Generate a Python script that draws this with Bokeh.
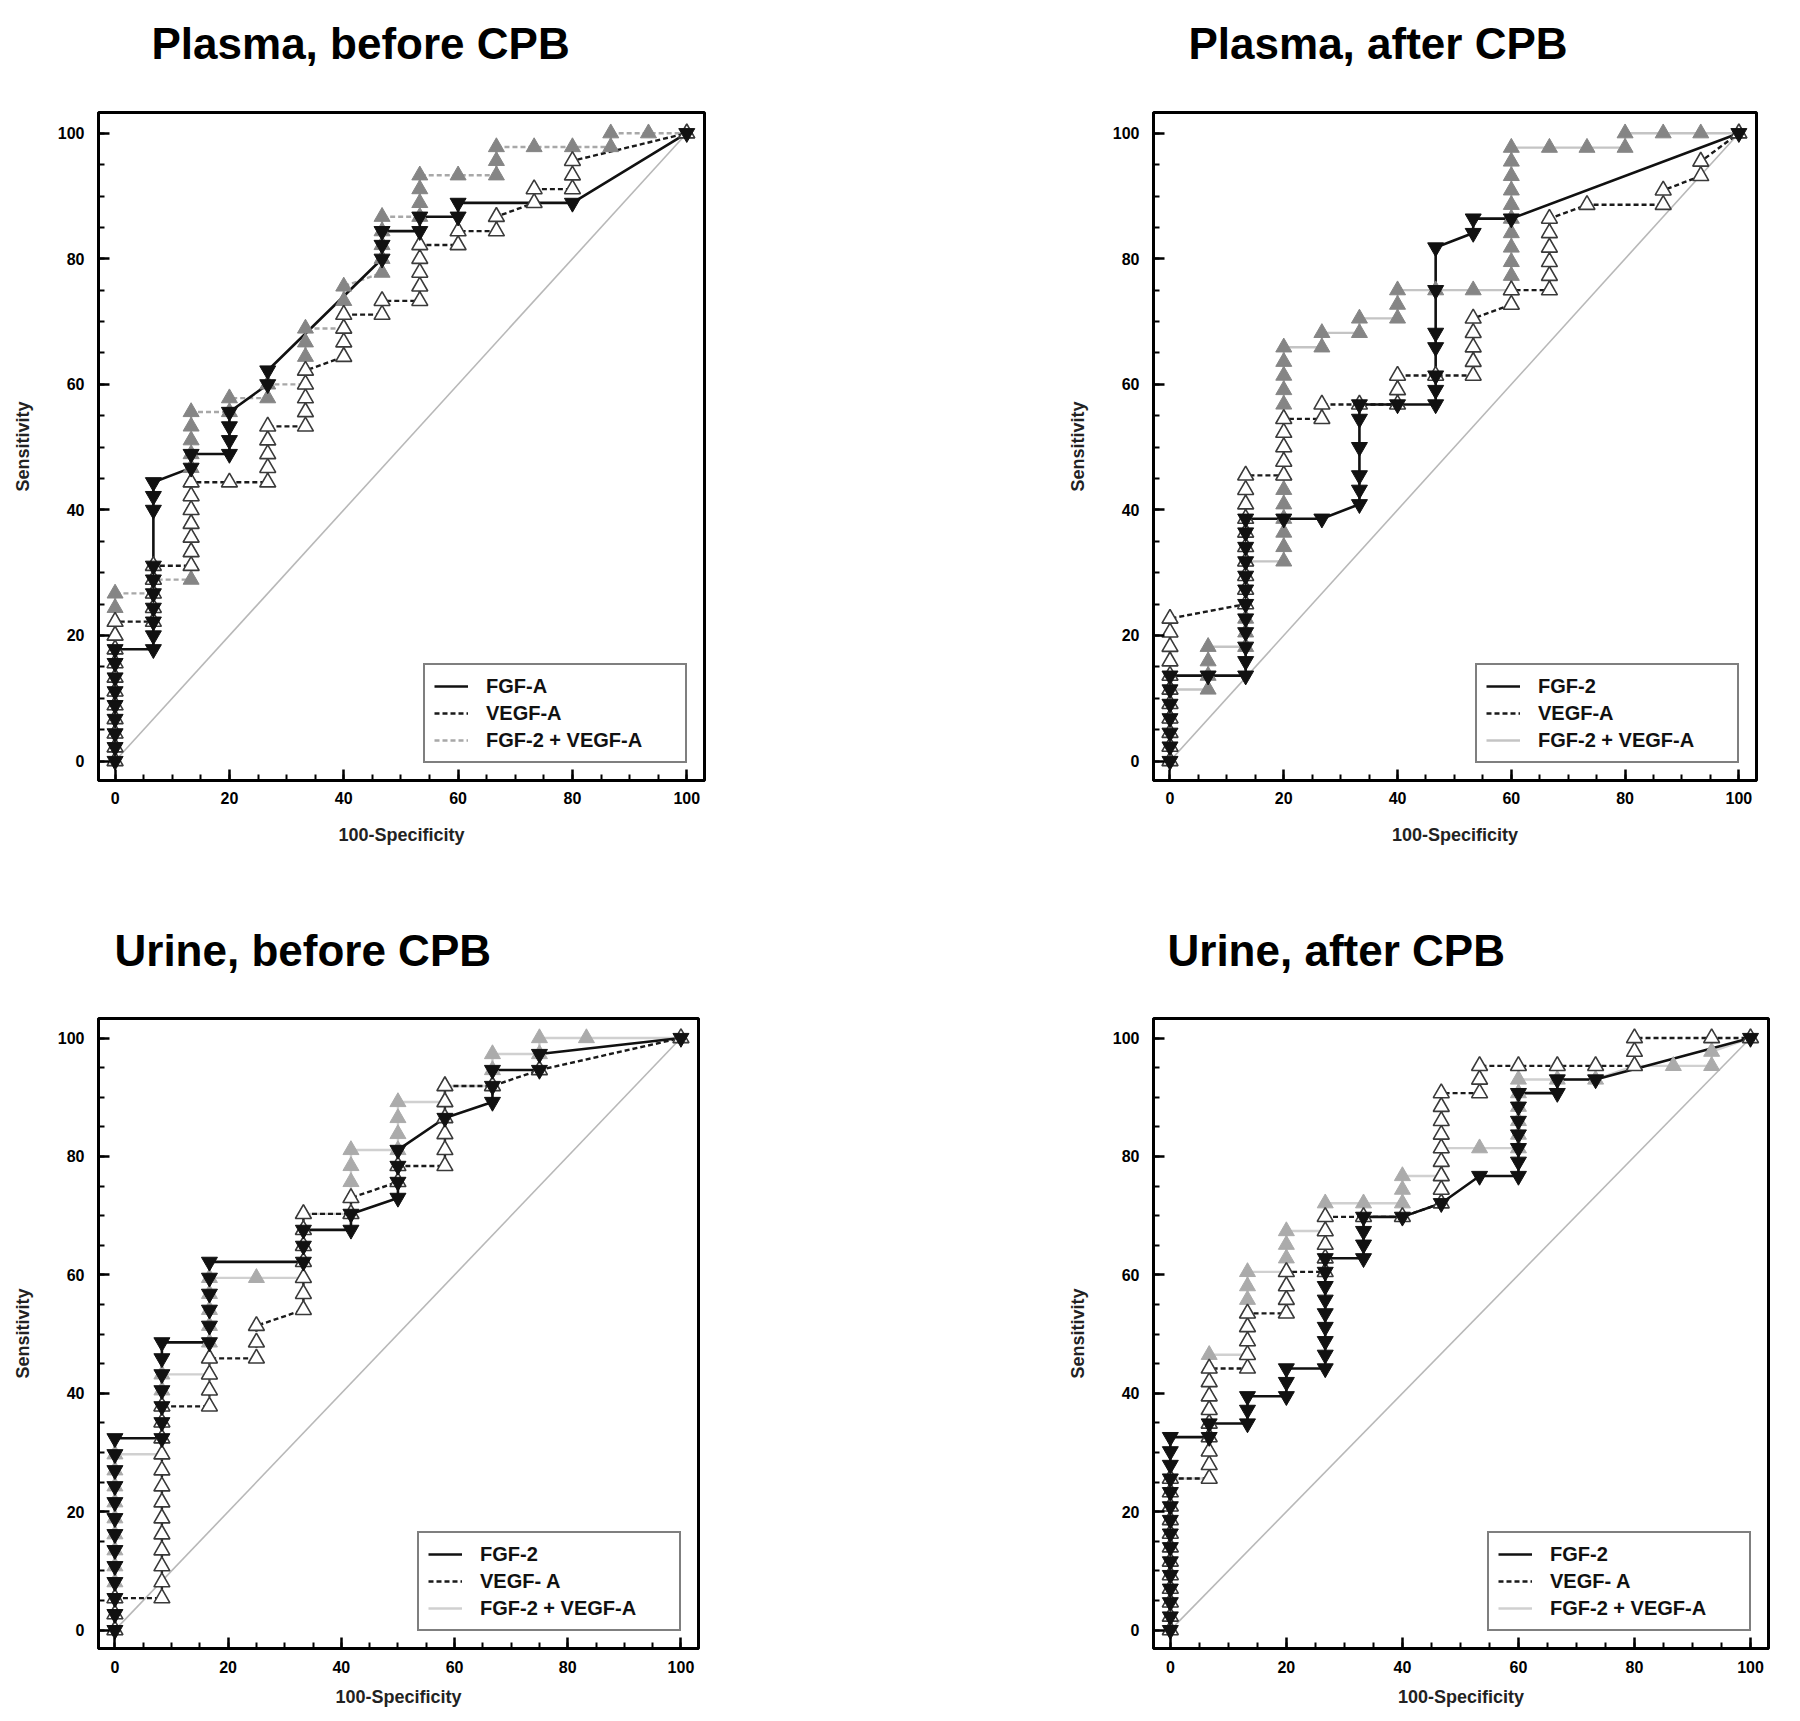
from bokeh.plotting import figure
from bokeh.models import Legend, LegendItem, SingleIntervalTicker
from bokeh.core.properties import value
from bokeh.layouts import column, row
from bokeh.embed import file_html
from bokeh.resources import INLINE

# ---------------- DATA ----------------
TITLES = ["Plasma, before CPB", "Plasma, after CPB", "Urine, before CPB", "Urine, after CPB"]
LABELS_P1 = ["FGF-A", "VEGF-A", "FGF-2 + VEGF-A"]
LABELS_P2 = ["FGF-2", "VEGF-A", "FGF-2 + VEGF-A"]
LABELS_P3 = ["FGF-2", "VEGF- A", "FGF-2 + VEGF-A"]
LABELS_P4 = ["FGF-2", "VEGF- A", "FGF-2 + VEGF-A"]
X_LABEL = "100-Specificity"
Y_LABEL = "Sensitivity"
DIAG_X = [0, 100]
DIAG_Y = [0, 100]

# Panel 1: Plasma, before CPB
P1_FGF_X = [0, 0, 0, 0, 0, 0, 0, 0, 0, 6.7, 6.7, 6.7, 6.7, 6.7, 6.7, 6.7, 6.7, 6.7, 6.7,
            13.3, 13.3, 20, 20, 20, 20, 26.7, 26.7, 46.7, 46.7, 46.7, 53.3, 53.3, 60, 60, 80, 100]
P1_FGF_Y = [0, 2.2, 4.4, 6.7, 8.9, 11.1, 13.3, 15.6, 17.8, 17.8, 20.0, 22.2, 24.4, 26.7, 28.9, 31.1, 40.0, 42.2, 44.4,
            46.7, 48.9, 48.9, 51.1, 53.3, 55.6, 60.0, 62.2, 80.0, 82.2, 84.4, 84.4, 86.7, 86.7, 88.9, 88.9, 100]
P1_VEGF_X = [0, 0, 0, 0, 0, 0, 0, 0, 0, 0, 0, 6.7, 6.7, 6.7, 6.7, 6.7,
             13.3, 13.3, 13.3, 13.3, 13.3, 13.3, 13.3, 20, 26.7, 26.7, 26.7, 26.7, 26.7,
             33.3, 33.3, 33.3, 33.3, 33.3, 40, 40, 40, 40, 46.7, 46.7, 53.3, 53.3, 53.3, 53.3, 53.3,
             60, 60, 66.7, 66.7, 73.3, 73.3, 80, 80, 80, 100]
P1_VEGF_Y = [0, 2.2, 4.4, 6.7, 8.9, 11.1, 13.3, 15.6, 17.8, 20.0, 22.2, 22.2, 24.4, 26.7, 28.9, 31.1,
             31.1, 33.3, 35.6, 37.8, 40.0, 42.2, 44.4, 44.4, 44.4, 46.7, 48.9, 51.1, 53.3,
             53.3, 55.6, 57.8, 60.0, 62.2, 64.4, 66.7, 68.9, 71.1, 71.1, 73.3, 73.3, 75.6, 77.8, 80.0, 82.2,
             82.2, 84.4, 84.4, 86.7, 88.9, 91.1, 91.1, 93.3, 95.6, 100]
P1_COMBO_X = [0, 0, 0, 0, 0, 0, 0, 0, 0, 0, 0, 0, 0, 6.7, 6.7,
              13.3, 13.3, 13.3, 13.3, 13.3, 13.3, 13.3, 13.3, 13.3, 13.3, 13.3, 13.3, 13.3,
              20, 20, 26.7, 26.7, 33.3, 33.3, 33.3, 33.3, 33.3, 40, 40, 40, 40,
              46.7, 46.7, 46.7, 46.7, 46.7, 53.3, 53.3, 53.3, 53.3, 60, 66.7, 66.7, 66.7,
              73.3, 80, 86.7, 86.7, 93.3, 100]
P1_COMBO_Y = [0, 2.2, 4.4, 6.7, 8.9, 11.1, 13.3, 15.6, 17.8, 20.0, 22.2, 24.4, 26.7, 26.7, 28.9,
              28.9, 31.1, 33.3, 35.6, 37.8, 40.0, 42.2, 44.4, 46.7, 48.9, 51.1, 53.3, 55.6,
              55.6, 57.8, 57.8, 60.0, 60.0, 62.2, 64.4, 66.7, 68.9, 68.9, 71.1, 73.3, 75.6,
              77.8, 80.0, 82.2, 84.4, 86.7, 86.7, 88.9, 91.1, 93.3, 93.3, 93.3, 95.6, 97.8,
              97.8, 97.8, 97.8, 100, 100, 100]

# Panel 2: Plasma, after CPB
P2_FGF_X = [0, 0, 0, 0, 0, 0, 0, 6.7,
            13.3, 13.3, 13.3, 13.3, 13.3, 13.3, 13.3, 13.3, 13.3, 13.3, 13.3, 13.3,
            20, 26.7, 33.3, 33.3, 33.3, 33.3, 33.3, 33.3, 40,
            46.7, 46.7, 46.7, 46.7, 46.7, 46.7, 46.7, 53.3, 53.3, 60, 100]
P2_FGF_Y = [0, 2.3, 4.5, 6.8, 9.1, 11.4, 13.6, 13.6,
            13.6, 15.9, 18.2, 20.5, 22.7, 25.0, 27.3, 29.5, 31.8, 34.1, 36.4, 38.6,
            38.6, 38.6, 40.9, 43.2, 45.5, 50.0, 54.5, 56.8, 56.8,
            56.8, 59.1, 61.4, 65.9, 68.2, 75.0, 81.8, 84.1, 86.4, 86.4, 100]
P2_VEGF_X = [0, 0, 0, 0, 0, 0, 0, 0, 0, 0, 0,
             13.3, 13.3, 13.3, 13.3, 13.3, 13.3, 13.3, 13.3, 13.3, 13.3,
             20, 20, 20, 20, 20, 26.7, 26.7, 33.3, 40, 40, 40, 46.7,
             53.3, 53.3, 53.3, 53.3, 53.3, 60, 60, 66.7, 66.7, 66.7, 66.7, 66.7, 66.7,
             73.3, 86.7, 86.7, 93.3, 93.3, 100]
P2_VEGF_Y = [0, 2.3, 4.5, 6.8, 9.1, 11.4, 13.6, 15.9, 18.2, 20.5, 22.7,
             25.0, 27.3, 29.5, 31.8, 34.1, 36.4, 38.6, 40.9, 43.2, 45.5,
             45.5, 47.7, 50.0, 52.3, 54.5, 54.5, 56.8, 56.8, 56.8, 59.1, 61.4, 61.4,
             61.4, 63.6, 65.9, 68.2, 70.5, 72.7, 75.0, 75.0, 77.3, 79.5, 81.8, 84.1, 86.4,
             88.6, 88.6, 90.9, 93.2, 95.5, 100]
P2_COMBO_X = [0, 0, 0, 0, 0, 0, 6.7, 6.7, 6.7, 6.7,
              13.3, 13.3, 13.3, 13.3, 13.3, 13.3, 13.3,
              20, 20, 20, 20, 20, 20, 20, 20, 20, 20, 20, 20, 20, 20, 20, 20,
              26.7, 26.7, 33.3, 33.3, 40, 40, 40, 46.7, 53.3,
              60, 60, 60, 60, 60, 60, 60, 60, 60, 60, 60,
              66.7, 73.3, 80, 80, 86.7, 93.3, 100]
P2_COMBO_Y = [0, 2.3, 4.5, 6.8, 9.1, 11.4, 11.4, 13.6, 15.9, 18.2,
              18.2, 20.5, 22.7, 25.0, 27.3, 29.5, 31.8,
              31.8, 34.1, 36.4, 38.6, 40.9, 43.2, 45.5, 47.7, 50.0, 52.3, 54.5, 56.8, 59.1, 61.4, 63.6, 65.9,
              65.9, 68.2, 68.2, 70.5, 70.5, 72.7, 75.0, 75.0, 75.0,
              75.0, 77.3, 79.5, 81.8, 84.1, 86.4, 88.6, 90.9, 93.2, 95.5, 97.7,
              97.7, 97.7, 97.7, 100, 100, 100, 100]

# Panel 3: Urine, before CPB
P3_FGF_X = [0, 0, 0, 0, 0, 0, 0, 0, 0, 0, 0, 0, 0,
            8.3, 8.3, 8.3, 8.3, 8.3, 8.3, 8.3, 16.7, 16.7, 16.7, 16.7, 16.7, 16.7,
            33.3, 33.3, 33.3, 41.7, 41.7, 50, 50, 50, 50, 58.3, 66.7, 66.7, 66.7, 75, 75, 100]
P3_FGF_Y = [0, 2.7, 5.4, 8.1, 10.8, 13.5, 16.2, 18.9, 21.6, 24.3, 27.0, 29.7, 32.4,
            32.4, 35.1, 37.8, 40.5, 43.2, 45.9, 48.6, 48.6, 51.4, 54.1, 56.8, 59.5, 62.2,
            62.2, 64.9, 67.6, 67.6, 70.3, 73.0, 75.7, 78.4, 81.1, 86.5, 89.2, 91.9, 94.6, 94.6, 97.3, 100]
P3_VEGF_X = [0, 0, 0, 8.3, 8.3, 8.3, 8.3, 8.3, 8.3, 8.3, 8.3, 8.3, 8.3, 8.3, 8.3, 8.3,
             16.7, 16.7, 16.7, 16.7, 25, 25, 25, 33.3, 33.3, 33.3, 33.3, 33.3, 33.3, 33.3,
             41.7, 41.7, 50, 50, 58.3, 58.3, 58.3, 58.3, 58.3, 58.3, 66.7, 75, 100]
P3_VEGF_Y = [0, 2.7, 5.4, 5.4, 8.1, 10.8, 13.5, 16.2, 18.9, 21.6, 24.3, 27.0, 29.7, 32.4, 35.1, 37.8,
             37.8, 40.5, 43.2, 45.9, 45.9, 48.6, 51.4, 54.1, 56.8, 59.5, 62.2, 64.9, 67.6, 70.3,
             70.3, 73.0, 75.7, 78.4, 78.4, 81.1, 83.8, 86.5, 89.2, 91.9, 91.9, 94.6, 100]
P3_COMBO_X = [0, 0, 0, 0, 0, 0, 0, 0, 0, 0, 0, 0,
              8.3, 8.3, 8.3, 8.3, 8.3, 8.3, 16.7, 16.7, 16.7, 16.7, 16.7, 16.7, 16.7, 25,
              33.3, 33.3, 33.3, 33.3, 33.3, 41.7, 41.7, 41.7, 41.7, 41.7, 50, 50, 50, 50,
              58.3, 58.3, 66.7, 66.7, 66.7, 75, 75, 83.3, 100]
P3_COMBO_Y = [0, 2.7, 5.4, 8.1, 10.8, 13.5, 16.2, 18.9, 21.6, 24.3, 27.0, 29.7,
              29.7, 32.4, 35.1, 37.8, 40.5, 43.2, 43.2, 45.9, 48.6, 51.4, 54.1, 56.8, 59.5, 59.5,
              59.5, 62.2, 64.9, 67.6, 70.3, 70.3, 73.0, 75.7, 78.4, 81.1, 81.1, 83.8, 86.5, 89.2,
              89.2, 91.9, 91.9, 94.6, 97.3, 97.3, 100, 100, 100]

# Panel 4: Urine, after CPB
P4_FGF_X = [0, 0, 0, 0, 0, 0, 0, 0, 0, 0, 0, 0, 0, 0, 0, 6.7, 6.7, 13.3, 13.3, 13.3, 20, 20, 20,
            26.7, 26.7, 26.7, 26.7, 26.7, 26.7, 26.7, 26.7, 26.7, 33.3, 33.3, 33.3, 33.3, 40, 46.7, 53.3,
            60, 60, 60, 60, 60, 60, 60, 66.7, 66.7, 73.3, 100]
P4_FGF_Y = [0, 2.3, 4.7, 7.0, 9.3, 11.6, 14.0, 16.3, 18.6, 20.9, 23.3, 25.6, 27.9, 30.2, 32.6,
            32.6, 34.9, 34.9, 37.2, 39.5, 39.5, 41.9, 44.2,
            44.2, 46.5, 48.8, 51.2, 53.5, 55.8, 58.1, 60.5, 62.8, 62.8, 65.1, 67.4, 69.8, 69.8, 72.1, 76.7,
            76.7, 79.1, 81.4, 83.7, 86.0, 88.4, 90.7, 90.7, 93.0, 93.0, 100]
P4_VEGF_X = [0, 0, 0, 0, 0, 0, 0, 0, 0, 0, 0, 0, 6.7, 6.7, 6.7, 6.7, 6.7, 6.7, 6.7, 6.7, 6.7,
             13.3, 13.3, 13.3, 13.3, 13.3, 20, 20, 20, 20, 26.7, 26.7, 26.7, 26.7, 26.7, 33.3, 40,
             46.7, 46.7, 46.7, 46.7, 46.7, 46.7, 46.7, 46.7, 46.7, 53.3, 53.3, 53.3,
             60, 66.7, 73.3, 80, 80, 80, 93.3, 100]
P4_VEGF_Y = [0, 2.3, 4.7, 7.0, 9.3, 11.6, 14.0, 16.3, 18.6, 20.9, 23.3, 25.6,
             25.6, 27.9, 30.2, 32.6, 34.9, 37.2, 39.5, 41.9, 44.2,
             44.2, 46.5, 48.8, 51.2, 53.5, 53.5, 55.8, 58.1, 60.5, 60.5, 62.8, 65.1, 67.4, 69.8, 69.8, 69.8,
             72.1, 74.4, 76.7, 79.1, 81.4, 83.7, 86.0, 88.4, 90.7, 90.7, 93.0, 95.3,
             95.3, 95.3, 95.3, 95.3, 97.7, 100, 100, 100]
P4_COMBO_X = [0, 0, 0, 0, 0, 0, 0, 0, 0, 0, 0, 0, 6.7, 6.7, 6.7, 6.7, 6.7, 6.7, 6.7, 6.7, 6.7, 6.7,
              13.3, 13.3, 13.3, 13.3, 13.3, 13.3, 13.3, 20, 20, 20, 20, 26.7, 26.7, 26.7, 33.3,
              40, 40, 40, 46.7, 46.7, 46.7, 53.3, 60, 60, 60, 60, 60, 60,
              66.7, 73.3, 80, 86.7, 93.3, 93.3, 100]
P4_COMBO_Y = [0, 2.3, 4.7, 7.0, 9.3, 11.6, 14.0, 16.3, 18.6, 20.9, 23.3, 25.6,
              25.6, 27.9, 30.2, 32.6, 34.9, 37.2, 39.5, 41.9, 44.2, 46.5,
              46.5, 48.8, 51.2, 53.5, 55.8, 58.1, 60.5, 60.5, 62.8, 65.1, 67.4, 67.4, 69.8, 72.1, 72.1,
              72.1, 74.4, 76.7, 76.7, 79.1, 81.4, 81.4, 81.4, 83.7, 86.0, 88.4, 90.7, 93.0,
              93.0, 93.0, 95.3, 95.3, 95.3, 97.7, 100]

# ---------------- STYLE / LAYOUT ----------------
FONT = "Liberation Sans"


def make_title_strip(text, width, height, tx, ty):
    t = figure(width=width, height=height, output_backend="svg", toolbar_location=None,
               x_range=(0, width), y_range=(0, height), x_axis_type=None, y_axis_type=None,
               min_border=0, outline_line_color=None,
               background_fill_color="white", border_fill_color="white")
    t.text(x=[tx], y=[ty], text=[text], text_font=value(FONT), text_font_size="44px",
           text_font_style="bold", text_color="black", text_baseline="middle", text_align="left")
    return t


def make_panel(labels, fgf, vegf, combo, combo_dash, combo_line_color,
               combo_marker_color, width, height, borders, standoffs):
    left, right, top, bottom = borders
    p = figure(width=width, height=height, output_backend="svg", toolbar_location=None,
               x_range=(-2.9, 103.1), y_range=(-3.1, 103.3),
               min_border_left=left, min_border_right=right,
               min_border_top=top, min_border_bottom=bottom,
               background_fill_color="white", border_fill_color="white")

    p.xgrid.visible = False
    p.ygrid.visible = False
    p.outline_line_color = "black"
    p.outline_line_width = 3

    for ax in (p.xaxis[0], p.yaxis[0]):
        ax.ticker = SingleIntervalTicker(interval=20, num_minor_ticks=4)
        ax.axis_line_width = 3
        ax.axis_line_color = "black"
        ax.major_tick_in = 11
        ax.major_tick_out = 0
        ax.minor_tick_in = 6
        ax.minor_tick_out = 0
        ax.major_tick_line_width = 2.5
        ax.minor_tick_line_width = 2
        ax.major_label_text_font = FONT
        ax.major_label_text_font_size = "16px"
        ax.major_label_text_font_style = "bold"
        ax.major_label_text_color = "black"
        ax.axis_label_text_font = FONT
        ax.axis_label_text_font_size = "18px"
        ax.axis_label_text_font_style = "bold"
        ax.axis_label_text_color = "#222222"
    p.xaxis.axis_label = X_LABEL
    p.yaxis.axis_label = Y_LABEL
    p.xaxis.major_label_standoff = standoffs[0]
    p.xaxis.axis_label_standoff = standoffs[1]
    p.yaxis.major_label_standoff = 14
    p.yaxis.axis_label_standoff = 22

    p.line(DIAG_X, DIAG_Y, line_color="#b8b8b8", line_width=1.6)

    r_combo = p.line(combo[0], combo[1], line_color=combo_line_color, line_width=2.4,
                     line_dash=combo_dash)
    r_vegf = p.line(vegf[0], vegf[1], line_color="#1a1a1a", line_width=2.4, line_dash="5 3")
    r_fgf = p.line(fgf[0], fgf[1], line_color="#111111", line_width=2.6)

    p.scatter(combo[0], combo[1], marker="triangle", size=16,
              fill_color=combo_marker_color, line_color=combo_marker_color, line_width=1)
    p.scatter(vegf[0], vegf[1], marker="triangle", size=16,
              fill_color="white", line_color="#3a3a3a", line_width=1.6)
    p.scatter(fgf[0], fgf[1], marker="inverted_triangle", size=16,
              fill_color="#111111", line_color="#111111", line_width=1)

    legend = Legend(items=[LegendItem(label=labels[0], renderers=[r_fgf]),
                           LegendItem(label=labels[1], renderers=[r_vegf]),
                           LegendItem(label=labels[2], renderers=[r_combo])],
                    location="bottom_right")
    legend.label_text_font = FONT
    legend.label_text_font_size = "20px"
    legend.label_text_font_style = "bold"
    legend.label_text_color = "#111111"
    legend.label_height = 24
    legend.glyph_height = 24
    legend.glyph_width = 34
    legend.label_standoff = 18
    legend.label_width = 190
    legend.padding = 9
    legend.spacing = 3
    legend.margin = 17
    legend.border_line_color = "black"
    legend.border_line_width = 2.5
    legend.background_fill_color = "white"
    legend.background_fill_alpha = 1
    p.add_layout(legend, "center")
    return p


series = [
    (P1_FGF_X, P1_FGF_Y), (P1_VEGF_X, P1_VEGF_Y), (P1_COMBO_X, P1_COMBO_Y),
    (P2_FGF_X, P2_FGF_Y), (P2_VEGF_X, P2_VEGF_Y), (P2_COMBO_X, P2_COMBO_Y),
    (P3_FGF_X, P3_FGF_Y), (P3_VEGF_X, P3_VEGF_Y), (P3_COMBO_X, P3_COMBO_Y),
    (P4_FGF_X, P4_FGF_Y), (P4_VEGF_X, P4_VEGF_Y), (P4_COMBO_X, P4_COMBO_Y),
]
for sx, sy in series:
    assert len(sx) == len(sy), (len(sx), len(sy))

t1 = make_title_strip(TITLES[0], 1060, 90, 151, 47)
t2 = make_title_strip(TITLES[1], 724, 90, 128, 47)
t3 = make_title_strip(TITLES[2], 1060, 100, 114, 34)
t4 = make_title_strip(TITLES[3], 724, 100, 107, 34)

p1 = make_panel(LABELS_P1, series[0], series[1], series[2],
                "5 3", "#a8a8a8", "#858585", 1060, 794, (98, 356, 22, 95), (11, 18))
p2 = make_panel(LABELS_P2, series[3], series[4], series[5],
                "solid", "#c4c4c4", "#858585", 724, 794, (93, 28, 22, 104), (11, 18))
p3 = make_panel(LABELS_P3, series[6], series[7], series[8],
                "solid", "#d0d0d0", "#ababab", 1060, 732, (98, 362, 34, 68), (12, 11))
p4 = make_panel(LABELS_P4, series[9], series[10], series[11],
                "solid", "#d0d0d0", "#ababab", 724, 732, (93, 16, 34, 68), (12, 11))

layout = column(row(t1, t2), row(p1, p2), row(t3, t4), row(p3, p4))
open("out.html", "w").write(file_html(layout, INLINE))
